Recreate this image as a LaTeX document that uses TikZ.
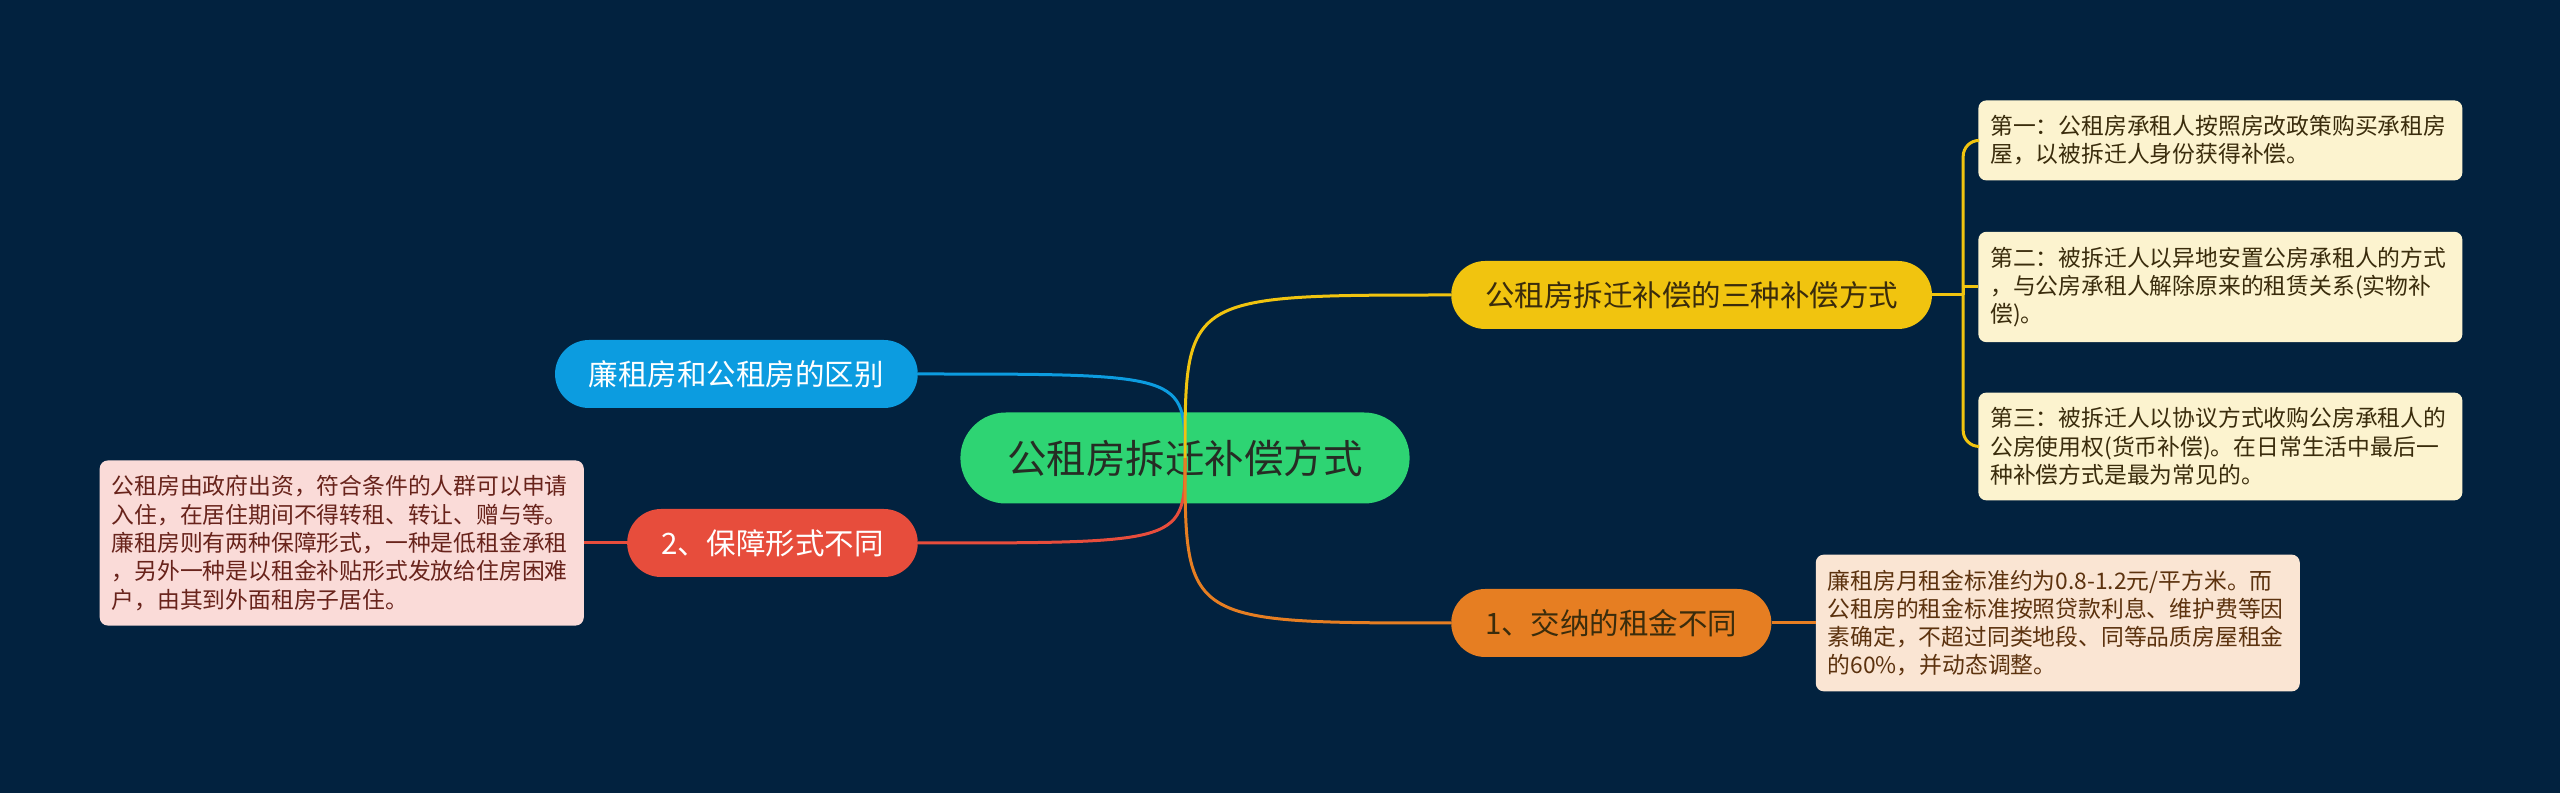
\documentclass[tikz,border=0pt]{standalone}
\usepackage{fontspec}
\setmainfont{Noto Sans CJK SC}
\usepackage{tikz}
\usetikzlibrary{positioning,shapes.misc}
\definecolor{fondo}{RGB}{2,34,63}
\definecolor{verde}{RGB}{46,212,115}
\definecolor{azul}{RGB}{12,156,224}
\definecolor{rojo}{RGB}{231,77,60}
\definecolor{amarillo}{RGB}{241,196,15}
\definecolor{naranja}{RGB}{230,126,34}
\definecolor{hojaamarilla}{RGB}{252,243,207}
\definecolor{hojanaranja}{RGB}{250,229,211}
\definecolor{hojarosa}{RGB}{250,219,216}
\definecolor{oscuro}{RGB}{38,44,36}
\definecolor{marron}{RGB}{58,44,12}

\begin{document}
\begin{tikzpicture}[x=1pt,y=1pt,
  root/.style={rounded rectangle,fill=verde,text=oscuro,minimum height=91pt,inner xsep=43pt,font=\fontsize{39.5}{44}\selectfont},
  branch/.style={rounded rectangle,minimum height=68pt,inner xsep=31pt,font=\fontsize{29.5}{34}\selectfont},
  leaf/.style={rounded corners=8pt,text width=460pt,inner xsep=12pt,inner ysep=15pt,align=left,font=\fontsize{22.8}{28.3}\selectfont},
  link/.style={line width=3pt,draw=#1}]
  \fill[fondo] (0,0) rectangle (2560,793);
  \node[root] (tema) at (1185,335) {公租房拆迁补偿方式};
  \node[branch,fill=amarillo,text=marron,right=266pt of tema.center,yshift=163pt] (tres) {公租房拆迁补偿的三种补偿方式};
  \node[branch,fill=naranja,text=marron,right=266pt of tema.center,yshift=-165pt] (renta) {1、交纳的租金不同};
  \node[branch,fill=azul,text=white,left=267pt of tema.center,yshift=84pt] (dif) {廉租房和公租房的区别};
  \node[branch,fill=rojo,text=white,left=267pt of tema.center,yshift=-85pt] (forma) {2、保障形式不同};
  \draw[link=azul] (dif.east) .. controls (tema.center |- dif.east) .. (tema.center);
  \draw[link=rojo] (forma.east) .. controls (tema.center |- forma.east) .. (tema.center);
  \draw[link=amarillo] (tema.center) .. controls (tema.center |- tres.west) .. (tres.west);
  \draw[link=naranja] (tema.center) .. controls (tema.center |- renta.west) .. (renta.west);
  \node[leaf,fill=hojaamarilla,text=marron,right=46pt of tres,yshift=8pt] (seg) {第二：被拆迁人以异地安置公房承租人的方式\\，与公房承租人解除原来的租赁关系(实物补\\偿)。};
  \node[leaf,fill=hojaamarilla,text=marron,above=51pt of seg] (pri) {第一：公租房承租人按照房改政策购买承租房\\屋，以被拆迁人身份获得补偿。};
  \node[leaf,fill=hojaamarilla,text=marron,below=50pt of seg] (ter) {第三：被拆迁人以协议方式收购公房承租人的\\公房使用权(货币补偿)。在日常生活中最后一\\种补偿方式是最为常见的。};
  \node[leaf,fill=hojanaranja,text=naranja!40!black,right=44pt of renta] (precio) {廉租房月租金标准约为0.8-1.2元/平方米。而\\公租房的租金标准按照贷款利息、维护费等因\\素确定，不超过同类地段、同等品质房屋租金\\的60\%，并动态调整。};
  \node[leaf,fill=hojarosa,text=rojo!45!black,left=43pt of forma] (garantia) {公租房由政府出资，符合条件的人群可以申请\\入住，在居住期间不得转租、转让、赠与等。\\廉租房则有两种保障形式，一种是低租金承租\\，另外一种是以租金补贴形式发放给住房困难\\户，由其到外面租房子居住。};
  \coordinate[right=31pt of tres.east] (rama);
  \draw[link=amarillo] (tres.east) -- (rama);
  \draw[link=amarillo,rounded corners=16pt] (rama) |- (pri.west);
  \draw[link=amarillo,rounded corners=16pt] (rama) |- (ter.west);
  \draw[link=amarillo] (rama) |- (seg.west);
  \draw[link=naranja] (renta.east) -- (precio.west);
  \draw[link=rojo] (forma.west) -- (garantia.east);
\end{tikzpicture}
\end{document}
